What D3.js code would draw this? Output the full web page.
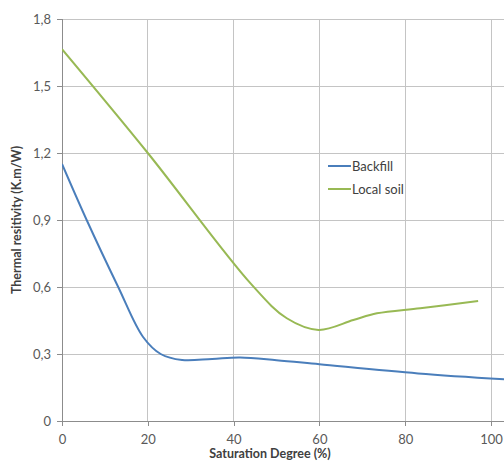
<!DOCTYPE html>
<html><head><meta charset="utf-8">
<script src="https://cdn.jsdelivr.net/npm/d3@7"></script>
<style>body{margin:0;background:#fff;}svg{display:block;font-family:Lato,"Open Sans",sans-serif;}</style>
</head><body>
<svg id="c" width="504" height="463"></svg>
<script>
const xTicks = [0, 20, 40, 60, 80, 100];
const yTicks = [0, 0.3, 0.6, 0.9, 1.2, 1.5, 1.8];
const yTickLabels = ["0", "0,3", "0,6", "0,9", "1,2", "1,5", "1,8"];
const seriesNames = ["Backfill", "Local soil"];
const backfillX = [0, 5.75, 13.1, 18.9, 23, 28, 35, 41.5, 50, 60, 83, 104];
const backfillY = [1.151, 0.9, 0.6, 0.376, 0.3, 0.273, 0.278, 0.284, 0.272, 0.254, 0.213, 0.186];
const localX = [0, 20, 44, 52.4, 59.8, 67.9, 73.4, 83.5, 97];
const localY = [1.665, 1.2, 0.615, 0.46, 0.408, 0.452, 0.482, 0.505, 0.537];
const colors = ["#4a7ebb", "#98b954"];

const svg = d3.select("#c");
const x = d3.scaleLinear().domain([0, 100]).range([62, 491]);
const y = d3.scaleLinear().domain([0, 1.8]).range([421, 19]);
const xRight = 504;

svg.append("g").selectAll("line.h").data(yTicks.slice(1)).join("line")
  .attr("x1", x(0)).attr("x2", xRight).attr("y1", d => y(d)).attr("y2", d => y(d))
  .attr("stroke", "#c4c4c4").attr("stroke-width", 1).attr("shape-rendering", "crispEdges");
svg.append("g").selectAll("line.v").data(xTicks.slice(1)).join("line")
  .attr("x1", d => x(d)).attr("x2", d => x(d)).attr("y1", y(1.8)).attr("y2", y(0))
  .attr("stroke", "#c4c4c4").attr("stroke-width", 1).attr("shape-rendering", "crispEdges");

const yAxis = d3.axisLeft(y).tickValues(yTicks).tickSize(5).tickPadding(6)
  .tickFormat((d, i) => yTickLabels[i]);
const gy = svg.append("g").attr("transform", `translate(${x(0)},0)`).call(yAxis);
const xAxis = d3.axisBottom(x).tickValues(xTicks).tickSize(5).tickPadding(6);
const gx = svg.append("g").attr("transform", `translate(0,${y(0)})`).call(xAxis);
[gx, gy].forEach(g => {
  g.select(".domain").remove();
  g.selectAll(".tick line").attr("stroke", "#8c8c8c").attr("shape-rendering", "crispEdges");
  g.selectAll(".tick text").attr("fill", "#595959").attr("font-size", 13).attr("font-family", "Lato, sans-serif");
});
gx.selectAll(".tick text").attr("dy", "0.9em");
svg.append("line").attr("x1", x(0)).attr("x2", x(0)).attr("y1", y(1.8)).attr("y2", y(0))
  .attr("stroke", "#8c8c8c").attr("shape-rendering", "crispEdges");
svg.append("line").attr("x1", x(0)).attr("x2", xRight).attr("y1", y(0)).attr("y2", y(0))
  .attr("stroke", "#8c8c8c").attr("shape-rendering", "crispEdges");

const line = d3.line().x(d => x(d[0])).y(d => y(d[1])).curve(d3.curveCatmullRom.alpha(0.5));
const data = [backfillX.map((v, i) => [v, backfillY[i]]), localX.map((v, i) => [v, localY[i]])];
svg.append("defs").append("clipPath").attr("id", "clip").append("rect")
  .attr("x", x(0)).attr("y", 0).attr("width", xRight - x(0)).attr("height", y(0));
svg.append("g").attr("clip-path", "url(#clip)").selectAll("path").data(data).join("path")
  .attr("d", line).attr("fill", "none").attr("stroke", (d, i) => colors[i]).attr("stroke-width", 2);

const lg = svg.append("g");
seriesNames.forEach((n, i) => {
  const yy = 166 + i * 23;
  lg.append("line").attr("x1", 328).attr("x2", 351).attr("y1", yy).attr("y2", yy)
    .attr("stroke", colors[i]).attr("stroke-width", 2);
  lg.append("text").attr("x", 352).attr("y", yy).attr("dy", "0.35em")
    .attr("font-size", 13).attr("fill", "#404040").text(n);
});

svg.append("text").attr("x", 270).attr("y", 458).attr("text-anchor", "middle")
  .attr("font-weight", "bold").attr("font-size", 12.5).attr("fill", "#404040").text("Saturation Degree (%)");
svg.append("text").attr("transform", "translate(21,220) rotate(-90)").attr("text-anchor", "middle")
  .attr("font-weight", "bold").attr("font-size", 12.5).attr("fill", "#404040").text("Thermal resitivity (K.m/W)");
</script>
</body></html>
